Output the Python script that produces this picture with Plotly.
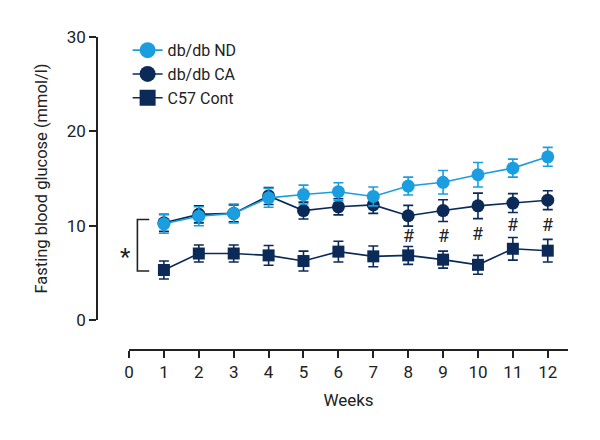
import plotly.graph_objects as go

weeks = [1, 2, 3, 4, 5, 6, 7, 8, 9, 10, 11, 12]

nd_mean = [10.2, 11.0, 11.3, 12.95, 13.3, 13.6, 13.1, 14.2, 14.6, 15.4, 16.1, 17.3]
nd_err = [1.0, 1.0, 1.0, 1.0, 1.0, 0.95, 1.0, 0.95, 1.25, 1.3, 0.95, 1.0]

ca_mean = [10.3, 11.2, 11.3, 13.15, 11.6, 12.0, 12.2, 11.05, 11.6, 12.1, 12.4, 12.7]
ca_err = [0.9, 0.9, 0.9, 0.9, 0.9, 0.85, 0.9, 1.1, 1.15, 1.35, 1.0, 1.0]

c57_mean = [5.3, 7.05, 7.05, 6.85, 6.25, 7.25, 6.75, 6.85, 6.4, 5.85, 7.55, 7.35]
c57_err = [0.95, 0.9, 0.9, 1.05, 1.05, 1.1, 1.1, 0.95, 0.9, 1.0, 1.2, 1.2]

sig_weeks = [8, 9, 10, 11, 12]
sig_y = [9.0, 9.0, 9.2, 10.1, 10.1]

x_ticks = list(range(0, 13))
y_ticks = [0, 10, 20, 30]

series_names = ["db/db ND", "db/db CA", "C57 Cont"]

LIGHT = "#1a9ee0"
DARK = "#0b2a58"
FONT = "Roboto, sans-serif"

fig = go.Figure()

fig.add_trace(go.Scatter(
    x=weeks, y=c57_mean, name="C57 Cont", mode="lines+markers",
    line=dict(color=DARK, width=1.6),
    marker=dict(symbol="square", size=12, color=DARK),
    error_y=dict(type="data", array=c57_err, color=DARK, thickness=1.6, width=5),
    showlegend=False,
))
fig.add_trace(go.Scatter(
    x=weeks, y=ca_mean, name="db/db CA", mode="lines+markers",
    line=dict(color=DARK, width=1.6),
    marker=dict(symbol="circle", size=13, color=DARK),
    error_y=dict(type="data", array=ca_err, color=DARK, thickness=1.6, width=5),
    showlegend=False,
))
fig.add_trace(go.Scatter(
    x=weeks, y=nd_mean, name="db/db ND", mode="lines+markers",
    line=dict(color=LIGHT, width=1.6),
    marker=dict(symbol="circle", size=13, color=LIGHT),
    error_y=dict(type="data", array=nd_err, color=LIGHT, thickness=1.6, width=5),
    showlegend=False,
))

# legend entries (larger symbols, as in the reference)
for nm, col, sym, rank in zip(series_names, [LIGHT, DARK, DARK],
                              ["circle", "circle", "square"], [1, 2, 3]):
    fig.add_trace(go.Scatter(
        x=[None], y=[None], name=nm, mode="lines+markers",
        line=dict(color=col, width=1.6),
        marker=dict(symbol=sym, size=16, color=col),
        legendrank=rank, showlegend=True,
    ))

for w, yv in zip(sig_weeks, sig_y):
    fig.add_annotation(x=w, y=yv, text="#", showarrow=False,
                       font=dict(size=18, color="#222222", family=FONT))

# significance bracket
fig.add_shape(type="path", xref="x", yref="y",
              path="M 0.58 10.65 L 0.24 10.65 L 0.24 5.2 L 0.58 5.2",
              line=dict(color="#222222", width=1.6))
fig.add_annotation(x=0.044, y=6.7, text="*", showarrow=False, xref="paper", yref="y",
                   font=dict(size=24, color="#222222", family=FONT))

fig.update_layout(
    width=600, height=440,
    margin=dict(l=97, r=32, t=37, b=90),
    paper_bgcolor="white", plot_bgcolor="white",
    font=dict(family=FONT, size=17, color="#222222"),
    showlegend=True,
    legend=dict(x=0.065, y=1.012, xanchor="left", yanchor="top",
                bgcolor="rgba(0,0,0,0)", font=dict(size=16),
                itemwidth=30, tracegroupgap=0),
    xaxis=dict(
        domain=[0.068, 1], range=[0, 12.58],
        tickvals=x_ticks, ticktext=[str(t) for t in x_ticks],
        showgrid=False, zeroline=False, showline=True, linecolor="#222222", linewidth=1.6,
        ticks="outside", ticklen=7, tickwidth=1.6, tickcolor="#222222",
        anchor="free", position=0,
        title=dict(text="Weeks", font=dict(size=17), standoff=12),
    ),
    yaxis=dict(
        domain=[0.0958, 1], range=[0, 30],
        tickvals=y_ticks, ticktext=[str(t) for t in y_ticks],
        showgrid=False, zeroline=False, showline=True, linecolor="#222222", linewidth=1.6,
        ticks="outside", ticklen=7, tickwidth=1.6, tickcolor="#222222",
        anchor="free", position=0,
        title=dict(text="Fasting blood glucose (mmol/l)", font=dict(size=16.5), standoff=14),
    ),
)

fig.write_html("out.html", config={"displayModeBar": False},
               post_script="document.body.style.margin='0';")
